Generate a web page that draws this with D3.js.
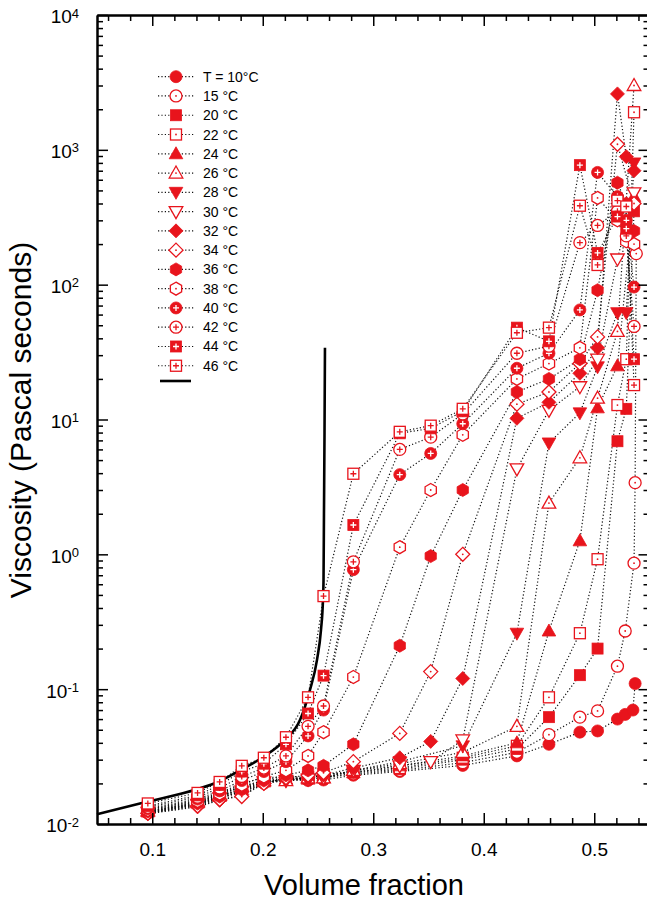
<!DOCTYPE html>
<html>
<head>
<meta charset="UTF-8">
<title></title>
<style>
  body { margin: 0; background: #fff; }
  text { font-family: Arial, 'Liberation Sans', Helvetica, sans-serif; fill: #000; }
  .axis path, .axis line { stroke: #000; }
  .axis path { stroke-width: 2; }
  .axis line { stroke-width: 1.5; }
  .series { fill: none; stroke: #111; stroke-width: 1.2; stroke-dasharray: 1.2 2.2; }
</style>
</head>
<body>
<script src="https://d3js.org/d3.v7.min.js"></script>
<script>
// [volume fraction, viscosity Pa.s] for each temperature
var t10 = [[0.096,0.0120],[0.141,0.0140],[0.161,0.0158],[0.181,0.0175],[0.201,0.0200],[0.221,0.0215],[0.241,0.0210],[0.255,0.0212],[0.282,0.0230],[0.324,0.0245],[0.381,0.0272],[0.430,0.0320],[0.459,0.0390],[0.487,0.0480],[0.503,0.0490],[0.521,0.0600],[0.528,0.0650],[0.535,0.0700],[0.537,0.110]];
var t15 = [[0.096,0.0122],[0.141,0.0142],[0.161,0.0160],[0.181,0.0180],[0.201,0.0205],[0.221,0.0220],[0.241,0.0215],[0.255,0.0220],[0.282,0.0235],[0.324,0.0250],[0.381,0.0285],[0.430,0.0340],[0.459,0.0460],[0.487,0.0620],[0.503,0.0690],[0.521,0.148],[0.528,0.270],[0.536,0.860],[0.537,3.4],[0.538,170]];
var t20 = [[0.096,0.0124],[0.141,0.0145],[0.161,0.0165],[0.181,0.0190],[0.201,0.0210],[0.221,0.0220],[0.241,0.0220],[0.255,0.0235],[0.282,0.0240],[0.324,0.0255],[0.381,0.0300],[0.430,0.0360],[0.459,0.0620],[0.487,0.127],[0.503,0.200],[0.521,6.9],[0.529,12],[0.536,350]];
var t22 = [[0.096,0.0128],[0.141,0.0150],[0.161,0.0170],[0.181,0.0200],[0.201,0.0220],[0.221,0.0225],[0.241,0.0222],[0.255,0.0232],[0.282,0.0245],[0.324,0.0260],[0.381,0.0310],[0.430,0.0380],[0.459,0.0870],[0.487,0.260],[0.503,0.92],[0.521,12.8],[0.529,28],[0.536,1900]];
var t24 = [[0.096,0.0123],[0.141,0.0143],[0.161,0.0160],[0.181,0.0185],[0.201,0.0205],[0.221,0.0215],[0.241,0.0215],[0.255,0.0220],[0.282,0.0240],[0.324,0.0270],[0.381,0.0320],[0.430,0.0400],[0.459,0.270],[0.487,1.26],[0.503,12.2],[0.521,25],[0.536,450]];
var t26 = [[0.096,0.0125],[0.141,0.0146],[0.161,0.0163],[0.181,0.0190],[0.201,0.0210],[0.221,0.0210],[0.241,0.0220],[0.255,0.0220],[0.282,0.0250],[0.324,0.0280],[0.381,0.0340],[0.430,0.0530],[0.459,2.4],[0.487,5.2],[0.503,14.4],[0.521,45],[0.536,3000]];
var t28 = [[0.096,0.0121],[0.141,0.0138],[0.161,0.0155],[0.181,0.0172],[0.201,0.0200],[0.221,0.0210],[0.241,0.0215],[0.255,0.0220],[0.282,0.0250],[0.324,0.0290],[0.381,0.0380],[0.430,0.260],[0.459,6.7],[0.487,11.2],[0.503,24.6],[0.521,62],[0.529,62],[0.536,800]];
var t30 = [[0.096,0.0122],[0.141,0.0140],[0.161,0.0156],[0.181,0.0175],[0.201,0.0205],[0.221,0.0210],[0.241,0.0215],[0.255,0.0220],[0.282,0.0250],[0.324,0.0270],[0.352,0.0290],[0.381,0.0420],[0.430,4.3],[0.459,11.7],[0.487,17.5],[0.503,28],[0.521,155],[0.536,480]];
var t32 = [[0.096,0.0119],[0.141,0.0134],[0.161,0.0150],[0.181,0.0165],[0.201,0.0200],[0.221,0.0215],[0.241,0.0220],[0.255,0.0230],[0.282,0.0260],[0.324,0.0310],[0.352,0.0410],[0.381,0.120],[0.430,10.2],[0.459,13.4],[0.487,22],[0.503,34],[0.521,2600],[0.529,890],[0.536,700]];
var t34 = [[0.096,0.0120],[0.141,0.0136],[0.161,0.0152],[0.181,0.0160],[0.201,0.0200],[0.221,0.0220],[0.241,0.0230],[0.255,0.0240],[0.282,0.0290],[0.324,0.0470],[0.352,0.135],[0.381,1.0],[0.430,13],[0.459,16],[0.487,26],[0.503,41],[0.521,1100],[0.536,400]];
var t36 = [[0.096,0.0124],[0.141,0.0142],[0.161,0.0160],[0.181,0.0180],[0.201,0.0210],[0.221,0.0230],[0.241,0.0250],[0.255,0.0270],[0.282,0.0390],[0.324,0.210],[0.352,0.97],[0.381,3.0],[0.430,16],[0.459,20],[0.487,28],[0.503,91],[0.521,570],[0.529,400],[0.536,250]];
var t38 = [[0.096,0.0127],[0.141,0.0148],[0.161,0.0168],[0.181,0.0195],[0.201,0.0225],[0.221,0.0250],[0.241,0.0320],[0.255,0.0480],[0.282,0.123],[0.324,1.13],[0.352,3.0],[0.381,7.7],[0.430,20],[0.459,26],[0.487,34],[0.503,440],[0.521,300],[0.529,210],[0.536,200]];
var t40 = [[0.096,0.0130],[0.141,0.0153],[0.161,0.0176],[0.181,0.0210],[0.201,0.0245],[0.221,0.0290],[0.241,0.0450],[0.255,0.0700],[0.282,0.77],[0.324,3.9],[0.352,5.6],[0.381,9.3],[0.430,24],[0.459,31],[0.487,65],[0.503,680],[0.521,450],[0.529,300],[0.536,96]];
var t42 = [[0.096,0.0133],[0.141,0.0158],[0.161,0.0185],[0.181,0.0225],[0.201,0.0260],[0.221,0.0320],[0.241,0.0530],[0.255,0.0750],[0.282,0.88],[0.324,6.0],[0.352,7.4],[0.381,11],[0.430,31],[0.459,35],[0.487,205],[0.503,275],[0.521,350],[0.529,230],[0.536,49]];
var t44 = [[0.096,0.0136],[0.141,0.0163],[0.161,0.0195],[0.181,0.0245],[0.201,0.0280],[0.221,0.0390],[0.241,0.0660],[0.255,0.126],[0.282,1.65],[0.324,7.9],[0.352,8.6],[0.381,11.5],[0.430,48],[0.459,38],[0.487,770],[0.503,172],[0.521,320],[0.529,260],[0.536,28]];
var t46 = [[0.096,0.0142],[0.141,0.0170],[0.161,0.0205],[0.181,0.0270],[0.201,0.0310],[0.221,0.0440],[0.241,0.0870],[0.255,0.49],[0.282,3.96],[0.324,8.1],[0.352,9.0],[0.381,12],[0.430,44],[0.459,48],[0.487,385],[0.503,140],[0.521,420],[0.529,380],[0.536,18]];

// model curve
var fit = [[0.050,0.0118],[0.0952,0.0146],[0.1405,0.0181],[0.1595,0.0205],[0.1794,0.0250],[0.1993,0.0310],[0.2201,0.0420],[0.2337,0.0590],[0.2428,0.099],[0.2491,0.165],[0.2527,0.275],[0.2545,0.46],[0.2550,0.64],[0.2554,2.0],[0.2559,8.0],[0.2563,34]];

var labels = ["T = 10°C","15 °C","20 °C","22 °C","24 °C","26 °C","28 °C","30 °C","32 °C","34 °C","36 °C","38 °C","40 °C","42 °C","44 °C","46 °C"];
var shapes = ["circle","circle","square","square","up","up","down","down","diamond","diamond","hex","hex","circle","circle","square","square"];
var styles = ["fill","dot","fill","dot","fill","dot","fill","open","fill","dot","fill","dot","fillplus","openplus","fillplus","openplus"];
var series = [t10,t15,t20,t22,t24,t26,t28,t30,t32,t34,t36,t38,t40,t42,t44,t46];

var xTicks = [0.1, 0.2, 0.3, 0.4, 0.5];
var yTicks = [1e-2, 1e-1, 1e0, 1e1, 1e2, 1e3, 1e4];

var red = "#e8141c";
var width = 647, height = 900;
var plotLeft = 97, plotRight = 649.5, plotTop = 15, plotBottom = 824;

var svg = d3.select("body").append("svg")
    .attr("width", width)
    .attr("height", height);

var x = d3.scaleLinear().domain([0.05, 0.55]).range([plotLeft, plotRight]);
var y = d3.scaleLog().domain([1e-2, 1e4]).range([plotBottom, plotTop]);

var xMinor = d3.range(0.06, 0.55, 0.02).filter(function(v) { return Math.abs(v*10 - Math.round(v*10)) > 0.01; });
var yMinor = [];
for (var e = -2; e < 4; e++) {
  for (var k = 2; k < 10; k++) yMinor.push(k * Math.pow(10, e));
}

function drawShape(g, shape, style, s) {
  var filled = style == "fill" || style == "fillplus";
  var p;
  if (shape == "circle") {
    p = g.append("circle").attr("r", 6 * s);
  } else if (shape == "square") {
    p = g.append("rect").attr("x", -5.5 * s).attr("y", -5.5 * s).attr("width", 11 * s).attr("height", 11 * s);
  } else {
    var pts;
    if (shape == "up") pts = [[0,-7],[6.8,5],[-6.8,5]];
    else if (shape == "down") pts = [[0,7],[6.8,-5],[-6.8,-5]];
    else if (shape == "diamond") pts = [[0,-7],[7,0],[0,7],[-7,0]];
    else pts = d3.range(6).map(function(i) { var a = (i * 60 - 90) * Math.PI / 180; return [6.5 * Math.cos(a), 6.5 * Math.sin(a)]; });
    p = g.append("path").attr("d", "M" + pts.map(function(q) { return [q[0]*s, q[1]*s]; }).join("L") + "Z");
  }
  if (filled) p.attr("fill", red).attr("stroke", red).attr("stroke-width", 0.8);
  else p.attr("fill", "#fff").attr("stroke", red).attr("stroke-width", 1.3);

  if (style == "dot") {
    g.append("circle").attr("r", 0.9).attr("fill", red);
  }
  if (style == "fillplus" || style == "openplus") {
    var c = style == "fillplus" ? "#fff" : red;
    g.append("path").attr("d", "M-3,0H3M0,-3V3").attr("stroke", c).attr("stroke-width", 1.3);
  }
}

// dotted connecting lines
var line = d3.line()
    .x(function(d) { return x(d[0]); })
    .y(function(d) { return y(d[1]); });

svg.append("g").selectAll("path")
    .data(series)
  .enter().append("path")
    .attr("class", "series")
    .attr("d", line);

// model curve
svg.append("path")
    .datum(fit)
    .attr("fill", "none")
    .attr("stroke", "#000")
    .attr("stroke-width", 2.6)
    .attr("d", line.curve(d3.curveMonotoneX));

// markers
series.forEach(function(data, i) {
  svg.append("g").selectAll("g")
      .data(data)
    .enter().append("g")
      .attr("transform", function(d) { return "translate(" + x(d[0]) + "," + y(d[1]) + ")"; })
      .each(function() { drawShape(d3.select(this), shapes[i], styles[i], 1); });
});

// axes
svg.append("g").attr("class", "axis")
    .attr("transform", "translate(0," + plotBottom + ")")
    .call(d3.axisBottom(x).tickValues(xTicks).tickSizeInner(-11).tickSizeOuter(0).tickPadding(19).tickFormat(d3.format(".1f")))
    .call(function(g) { g.selectAll("text").style("font-size", "19px"); });
svg.append("g").attr("class", "axis")
    .attr("transform", "translate(0," + plotBottom + ")")
    .call(d3.axisBottom(x).tickValues(xMinor).tickSizeInner(-6).tickSizeOuter(0).tickFormat(""));
svg.append("g").attr("class", "axis")
    .attr("transform", "translate(0," + plotTop + ")")
    .call(d3.axisTop(x).tickValues(xTicks).tickSizeInner(-11).tickSizeOuter(0).tickFormat(""));
svg.append("g").attr("class", "axis")
    .attr("transform", "translate(0," + plotTop + ")")
    .call(d3.axisTop(x).tickValues(xMinor).tickSizeInner(-6).tickSizeOuter(0).tickFormat(""));

var yAxis = svg.append("g").attr("class", "axis")
    .attr("transform", "translate(" + plotLeft + ",0)")
    .call(d3.axisLeft(y).tickValues(yTicks).tickSizeInner(-11).tickSizeOuter(0).tickPadding(18).tickFormat(""));
yAxis.selectAll(".tick text")
    .attr("dy", "0.42em")
    .style("font-size", "19px")
    .each(function(d) {
      var t = d3.select(this);
      t.append("tspan").text("10");
      t.append("tspan").attr("dy", "-0.45em").style("font-size", "13px").text(Math.round(Math.log10(d)));
    });
svg.append("g").attr("class", "axis")
    .attr("transform", "translate(" + plotLeft + ",0)")
    .call(d3.axisLeft(y).tickValues(yMinor).tickSizeInner(-6).tickSizeOuter(0).tickFormat(""));
svg.append("g").attr("class", "axis")
    .attr("transform", "translate(" + plotRight + ",0)")
    .call(d3.axisRight(y).tickValues(yTicks).tickSizeInner(-11).tickSizeOuter(0).tickFormat(""));
svg.append("g").attr("class", "axis")
    .attr("transform", "translate(" + plotRight + ",0)")
    .call(d3.axisRight(y).tickValues(yMinor).tickSizeInner(-6).tickSizeOuter(0).tickFormat(""));

// axis titles
svg.append("text")
    .attr("x", 364)
    .attr("y", 895)
    .attr("text-anchor", "middle")
    .style("font-size", "29px")
    .text("Volume fraction");
svg.append("text")
    .attr("transform", "translate(31,420) rotate(-90)")
    .attr("text-anchor", "middle")
    .style("font-size", "30px")
    .text("Viscosity (Pascal seconds)");

// legend
var legend = svg.append("g").attr("class", "legend");
labels.forEach(function(lab, i) {
  var ly = 76.7 + i * 19.27;
  legend.append("line")
      .attr("x1", 158).attr("x2", 194).attr("y1", ly).attr("y2", ly)
      .attr("class", "series");
  var g = legend.append("g").attr("transform", "translate(176," + ly + ")");
  drawShape(g, shapes[i], styles[i], 1);
  legend.append("text")
      .attr("x", 203).attr("y", ly + 5)
      .style("font-size", "14px")
      .text(lab);
});
legend.append("line")
    .attr("x1", 160).attr("x2", 191)
    .attr("y1", 381).attr("y2", 381)
    .attr("stroke", "#000").attr("stroke-width", 2.6);
</script>
</body>
</html>
